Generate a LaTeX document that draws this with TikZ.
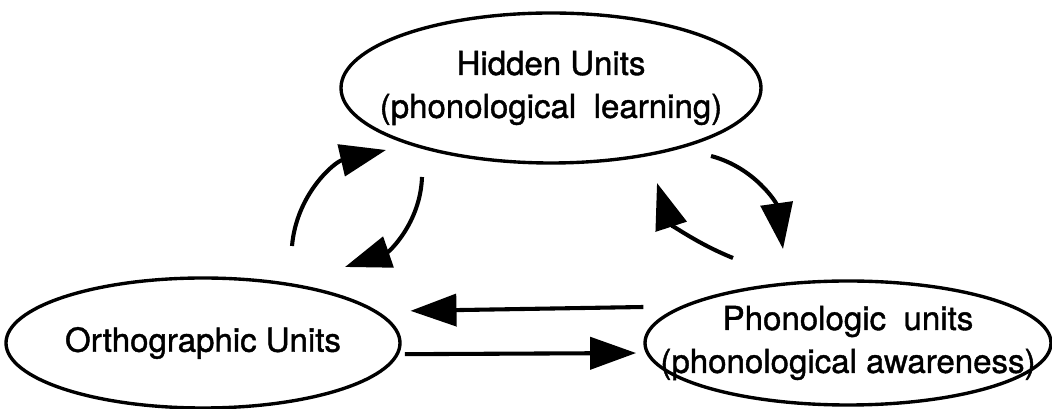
\documentclass[tikz,border=0pt]{standalone}
\usepackage{fontspec}
\setmainfont{TeX Gyre Heros}
\newfontfamily\unitfont{TeX Gyre Heros}[FakeBold=1.2]
\usetikzlibrary{arrows.meta,shapes.geometric}

\begin{document}
\begin{tikzpicture}[
        unit/.style={draw, ellipse, line width=2.4pt, inner xsep=-3cm, inner ysep=-1cm, align=center,
            font=\unitfont\fontsize{23.5}{30.5}\selectfont},
        link/.style={line width=2.9pt, -{Triangle[length=1.15cm,width=0.8cm]}}
    ]
        \useasboundingbox (0,0) rectangle (26.3,10.225);
        \node[unit, minimum width=10.5cm, minimum height=3.75cm] (hidden) at (13.775,8.025) {Hidden Units\\(phonological\hspace{.25em} learning)};
        \node[unit, minimum width=9.85cm, minimum height=3.25cm] (ortho) at (5.075,1.65) {Orthographic Units};
        \node[unit, minimum width=10.15cm, minimum height=3.1cm] (phono) at (21.2,1.65) {Phonologic\hspace{.25em} units\\(phonological awareness)};
        \coordinate (oh-start) at (7.3,4.075);
        \coordinate (oh-end) at (9.65,6.475);
        \coordinate (ho-start) at (10.55,5.8);
        \coordinate (ho-end) at (8.625,3.55);
        \coordinate (hp-start) at (17.775,6.325);
        \coordinate (hp-end) at (19.575,4.0);
        \coordinate (ph-start) at (18.325,3.775);
        \coordinate (ph-end) at (16.425,5.65);
        \draw[link] (oh-start) to[out=85, in=193] (oh-end);
        \draw[link] (ho-start) to[out=-92, in=19] (ho-end);
        \draw[link] (hp-start) to[out=-15, in=98] (hp-end);
        \draw[link] (ph-start) to[out=158, in=-72] (ph-end);
        \draw[link, shorten >=0.22cm] ([yshift=0.9cm]phono.west) -- ([yshift=0.8cm]ortho.east);
        \draw[link, shorten <=0.08cm, shorten >=0.18cm] ([yshift=-0.28cm]ortho.east) -- ([yshift=-0.25cm]phono.west);
    \end{tikzpicture}
\end{document}
